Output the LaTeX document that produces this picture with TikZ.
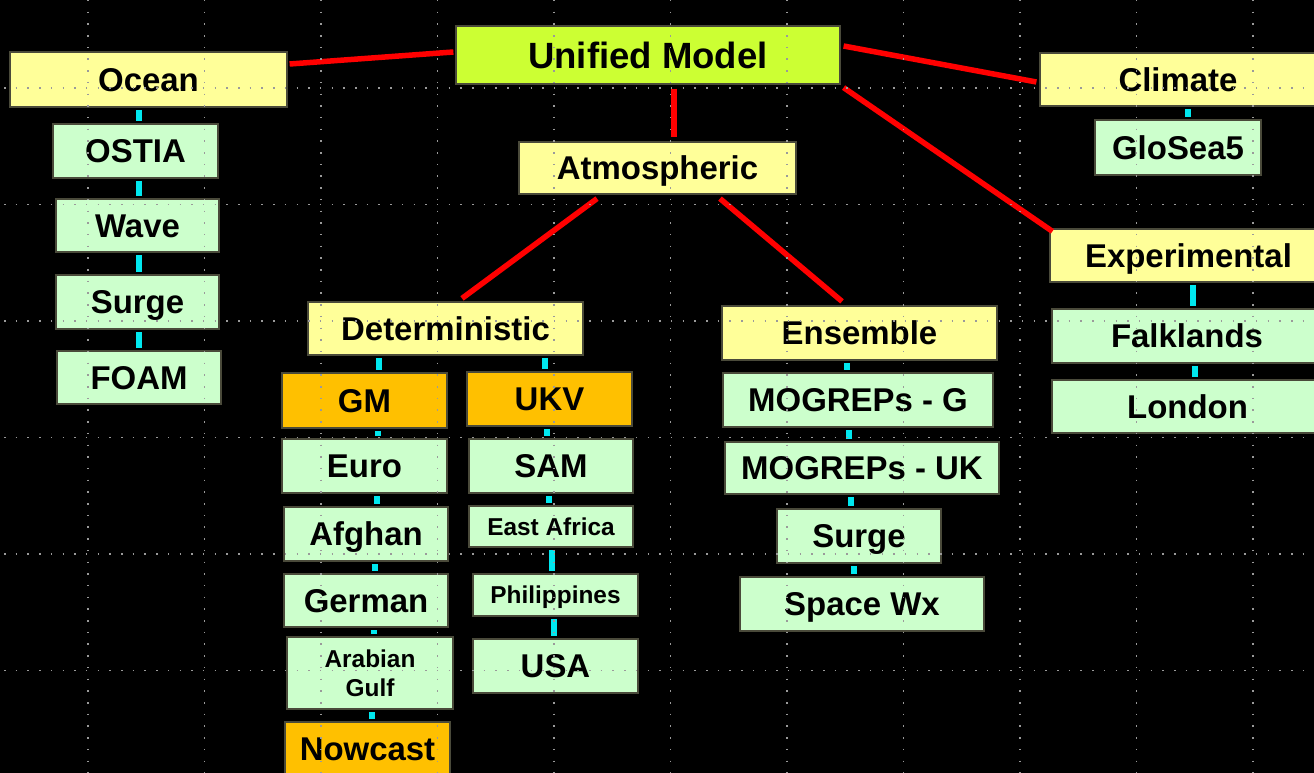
\documentclass[tikz,border=0pt]{standalone}
\usepackage{fontspec}
\setmainfont{Liberation Sans}
\newlength\pxu
\setlength\pxu{0.75pt}
\definecolor{ylw}{HTML}{FFFF99}
\definecolor{grn}{HTML}{CCFFCC}
\definecolor{org}{HTML}{FFC000}
\definecolor{limeb}{HTML}{CCFF33}
\definecolor{bord}{HTML}{4A4A3A}
\definecolor{redl}{HTML}{FF0000}
\definecolor{cyl}{HTML}{00E8F0}
\definecolor{gridc}{HTML}{9A9A9A}
\begin{document}
\begin{tikzpicture}[x=0.75pt,y=-0.75pt,
  box/.style={draw=bord, line width=1.2\pxu, inner sep=0pt, text=black,
    text height=17.7pt, text depth=0pt, font=\bfseries\fontsize{24.7}{29}\selectfont},
  ybox/.style={box, fill=ylw},
  gbox/.style={box, fill=grn},
  obox/.style={box, fill=org},
  smalltxt/.style={text height=13.1pt, font=\bfseries\fontsize{18.3}{21}\selectfont},
  sz/.style 2 args={minimum width=#1\pxu, minimum height=#2\pxu},
  redline/.style={draw=redl, line width=5.5\pxu},
  cyline/.style={draw=cyl, line width=5.5\pxu, shorten <=2.5\pxu, shorten >=2.5\pxu},
  gridline/.style={draw=gridc, line width=1.5\pxu, dash pattern=on 1.5\pxu off 10.2\pxu}
]
\useasboundingbox (0,0) rectangle (1314,773);
\clip (0,0) rectangle (1314,773);
\fill[black] (0,0) rectangle (1314,773);

% top
\node[box, fill=limeb, sz={384}{58}, text height=19.6pt, font=\bfseries\fontsize{27.4}{32}\selectfont] (um) at (648,55) {Unified Model};

% ocean column
\node[ybox, sz={277}{55}] (ocean) at (148.5,79.5) {Ocean};
\node[gbox, sz={165}{54}] (ostia) at (135.5,151) {OSTIA};
\node[gbox, sz={163}{53}] (wave) at (137.5,225.5) {Wave};
\node[gbox, sz={163}{54}] (surgeo) at (137.5,302) {Surge};
\node[gbox, sz={164}{53}] (foam) at (139,377.5) {FOAM};

% climate / experimental
\node[ybox, sz={276}{53}] (climate) at (1178,79.5) {Climate};
\node[gbox, sz={166}{55}] (glosea) at (1178,147.5) {GloSea5};
\node[ybox, sz={277}{53}] (exper) at (1188.5,255.5) {Experimental};
\node[gbox, sz={270}{54}] (falk) at (1187,336) {Falklands};
\node[gbox, sz={271}{53}] (london) at (1187.5,406.5) {London};

% atmospheric
\node[ybox, sz={277}{52}] (atm) at (657.5,168) {Atmospheric};
\node[ybox, sz={275}{53}] (det) at (445.5,328.5) {Deterministic};
\node[ybox, sz={275}{54}] (ens) at (859.5,333) {Ensemble};

% ensemble column
\node[gbox, sz={270}{54}] (mogg) at (858,400) {MOGREPs - G};
\node[gbox, sz={274}{52}] (moguk) at (862,468) {MOGREPs - UK};
\node[gbox, sz={164}{54}] (surgee) at (859,536) {Surge};
\node[gbox, sz={244}{54}] (spacewx) at (862,604) {Space Wx};

% deterministic columns
\node[obox, sz={165}{55}] (gm) at (364.5,400.5) {GM};
\node[gbox, sz={165}{54}] (euro) at (364.5,466) {Euro};
\node[gbox, sz={164}{54}] (afghan) at (366,534) {Afghan};
\node[gbox, sz={164}{53}] (german) at (366,600.5) {German};
\node[gbox, sz={166}{72}, align=center, text height=, text depth=, font=\bfseries\fontsize{18.3}{21.5}\selectfont] (arabian) at (370,673) {Arabian\\Gulf};
\node[obox, sz={165}{54}] (nowcast) at (367.5,749) {Nowcast};

\node[obox, sz={165}{54}] (ukv) at (549.5,399) {UKV};
\node[gbox, sz={164}{54}] (sam) at (551,466) {SAM};
\node[gbox, smalltxt, sz={164}{41}] (eafrica) at (551,526.5) {East Africa};
\node[gbox, smalltxt, sz={165}{42}] (phil) at (555.5,595) {Philippines};
\node[gbox, sz={165}{54}] (usa) at (555.5,666) {USA};

% red connectors
\draw[redline] ([shift={(2,-15.5)}]ocean.east) -- ([shift={(-2,-3)}]um.west);
\draw[redline] ([shift={(3,-9)}]um.east) -- ([shift={(-3,2.5)}]climate.west);
\draw[redline] ([shift={(3,3)}]um.south east) -- ([shift={(3,3)}]exper.north west);
\draw[redline] ([shift={(26,4)}]um.south) -- ([shift={(16.5,-4)}]atm.north);
\draw[redline] ([shift={(-60.5,4)}]atm.south) -- ([shift={(16.5,-3)}]det.north);
\draw[redline] ([shift={(62.5,4)}]atm.south) -- ([shift={(-17.5,-4)}]ens.north);

% cyan connectors
\coordinate (c139) at (139,0);
\coordinate (c1188) at (1188,0);
\coordinate (c1193) at (1193,0);
\coordinate (c1195) at (1195,0);
\coordinate (c847) at (847,0);
\coordinate (c849) at (849,0);
\coordinate (c851) at (851,0);
\coordinate (c854) at (854,0);
\coordinate (c379) at (379,0);
\coordinate (c378) at (378,0);
\coordinate (c377) at (377,0);
\coordinate (c375) at (375,0);
\coordinate (c374) at (374,0);
\coordinate (c372) at (372,0);
\coordinate (c545) at (545,0);
\coordinate (c547) at (547,0);
\coordinate (c549) at (549,0);
\coordinate (c552) at (552,0);
\coordinate (c554) at (554,0);

\draw[cyline] (ocean.south -| c139) -- (ostia.north -| c139);
\draw[cyline] (ostia.south -| c139) -- (wave.north -| c139);
\draw[cyline] (wave.south -| c139) -- (surgeo.north -| c139);
\draw[cyline] (surgeo.south -| c139) -- (foam.north -| c139);

\draw[cyline] (climate.south -| c1188) -- (glosea.north -| c1188);
\draw[cyline] (exper.south -| c1193) -- (falk.north -| c1193);
\draw[cyline] (falk.south -| c1195) -- (london.north -| c1195);

\draw[cyline] (ens.south -| c847) -- (mogg.north -| c847);
\draw[cyline] (mogg.south -| c849) -- (moguk.north -| c849);
\draw[cyline] (moguk.south -| c851) -- (surgee.north -| c851);
\draw[cyline] (surgee.south -| c854) -- (spacewx.north -| c854);

\draw[cyline] (det.south -| c379) -- (gm.north -| c379);
\draw[cyline] (gm.south -| c378) -- (euro.north -| c378);
\draw[cyline] (euro.south -| c377) -- (afghan.north -| c377);
\draw[cyline] (afghan.south -| c375) -- (german.north -| c375);
\draw[cyline] (german.south -| c374) -- (arabian.north -| c374);
\draw[cyline] (arabian.south -| c372) -- (nowcast.north -| c372);

\draw[cyline] (det.south -| c545) -- (ukv.north -| c545);
\draw[cyline] (ukv.south -| c547) -- (sam.north -| c547);
\draw[cyline] (sam.south -| c549) -- (eafrica.north -| c549);
\draw[cyline] (eafrica.south -| c552) -- (phil.north -| c552);
\draw[cyline] (phil.south -| c554) -- (usa.north -| c554);

% dotted grid
\foreach \gy in {88,204.5,321,437.5,554,670.5}
  \draw[gridline] (4,\gy) -- (1314,\gy);
\foreach \gx in {88,204.5,321,437.5,554,670.5,787,903.5,1020,1136.5,1253}
  \draw[gridline] (\gx,0) -- (\gx,773);
\end{tikzpicture}
\end{document}
